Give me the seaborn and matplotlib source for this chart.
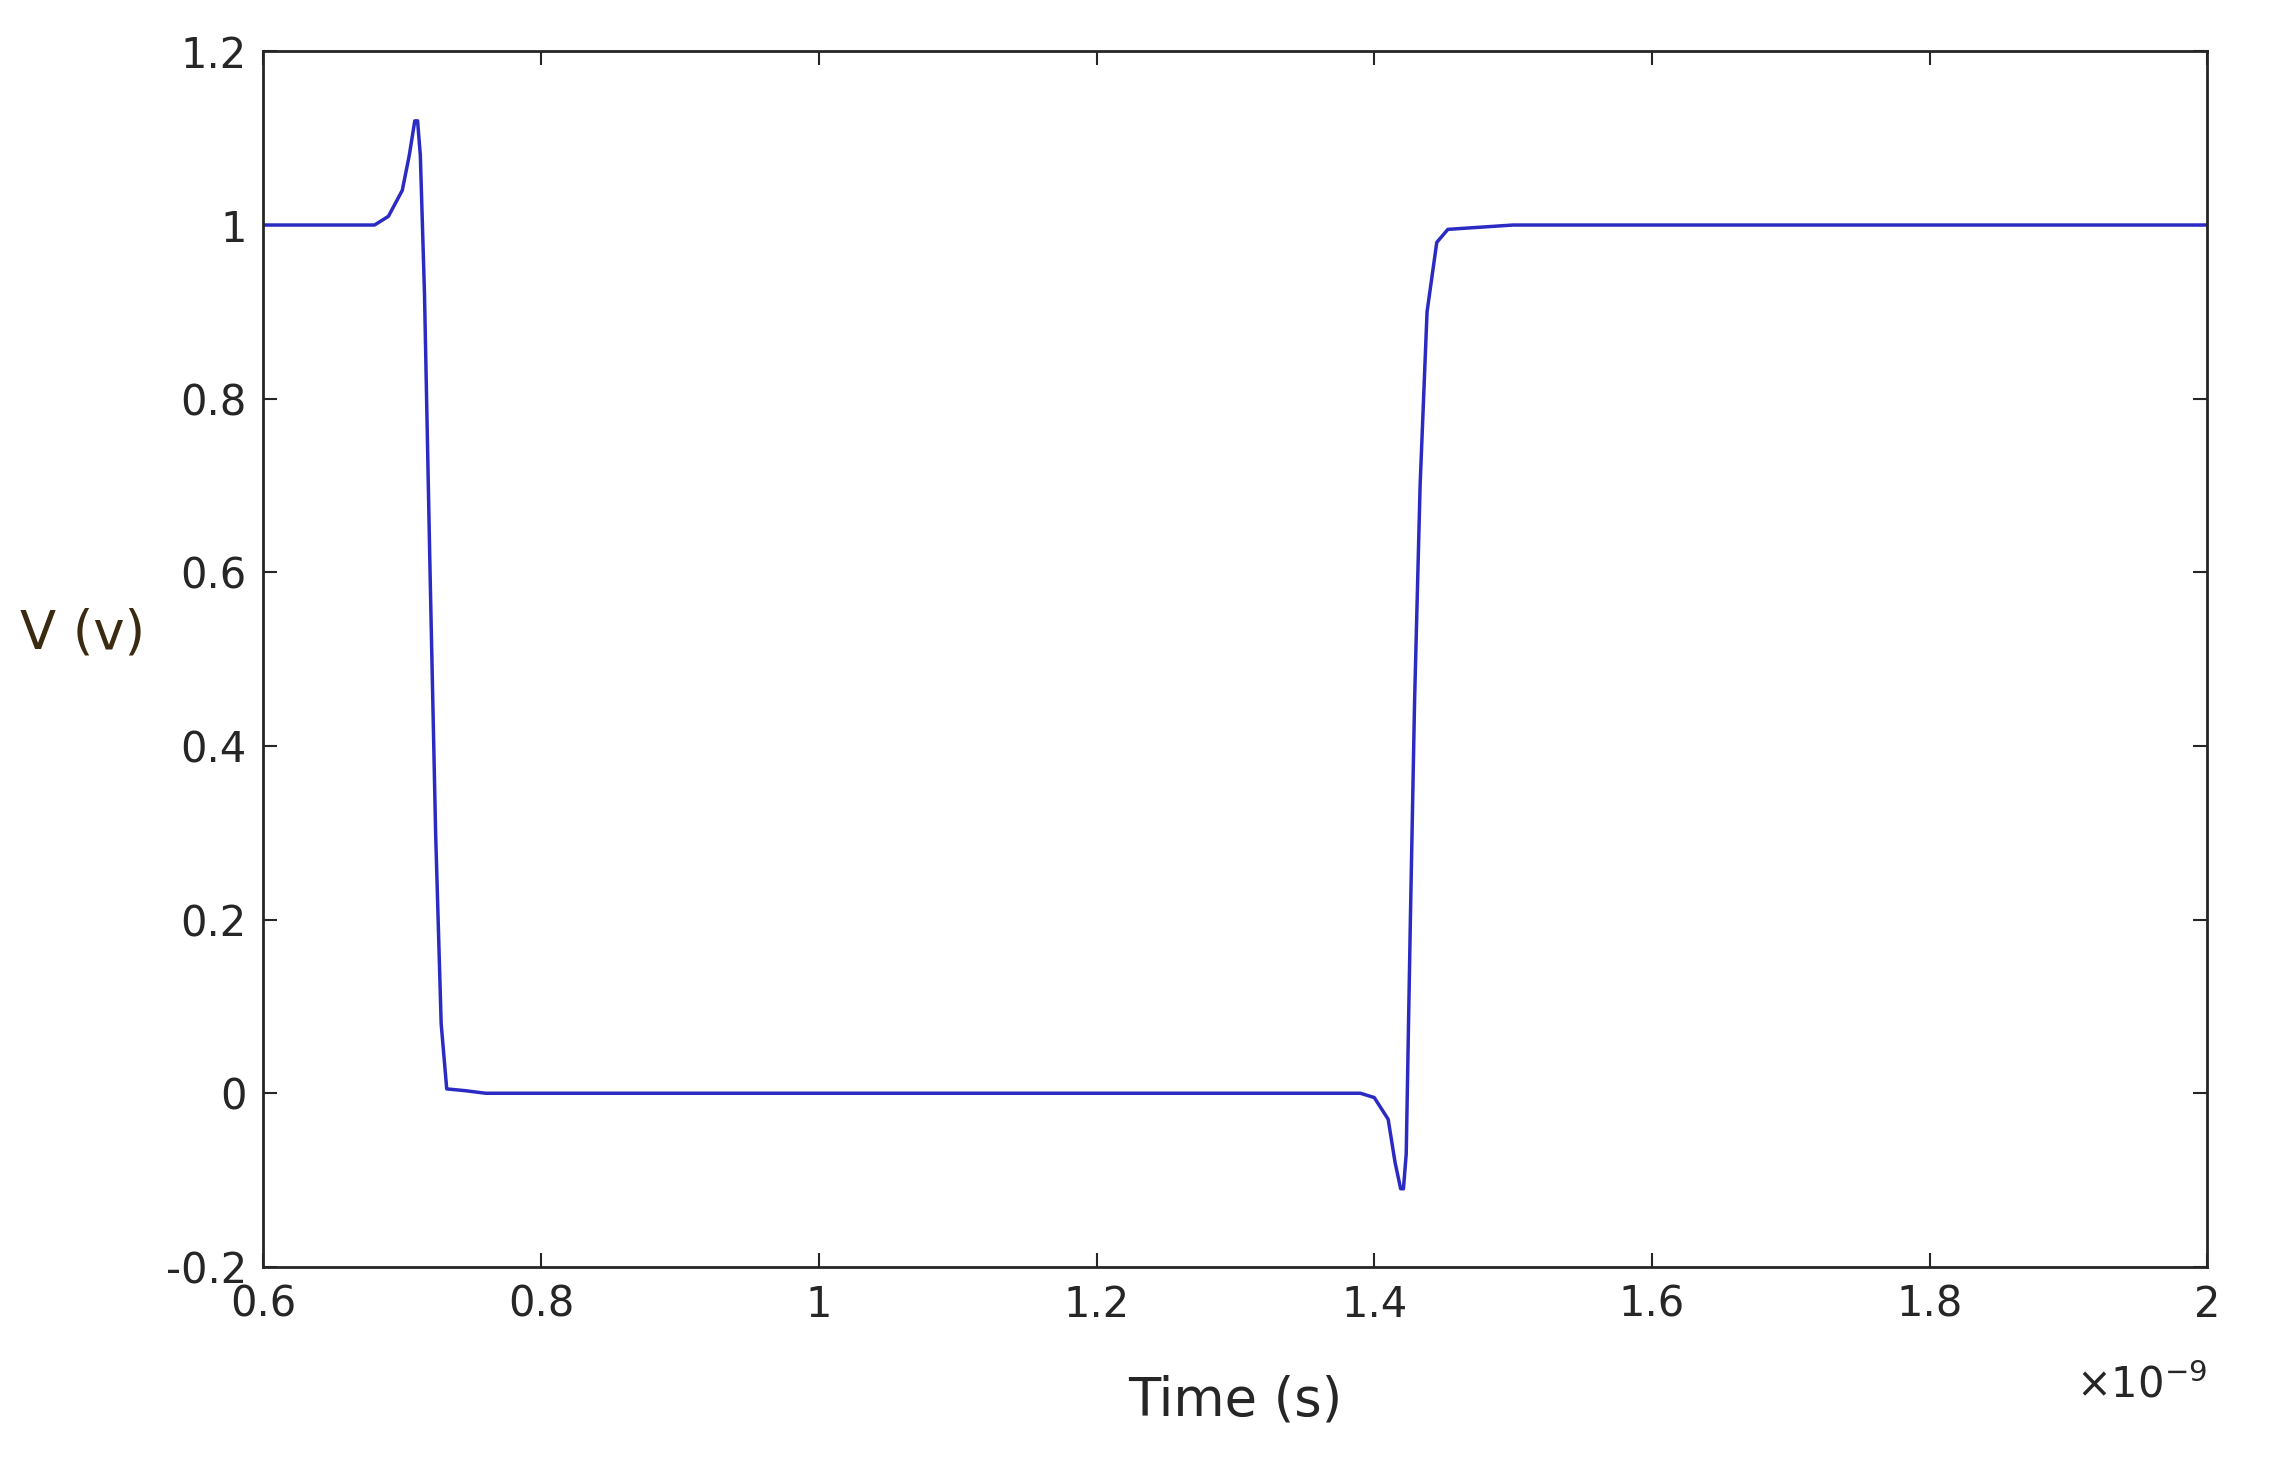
import matplotlib
matplotlib.use("Agg")
import matplotlib.pyplot as plt
import seaborn as sns
import pandas as pd

time_ns = [0.6, 0.68, 0.69, 0.70, 0.705, 0.709, 0.711, 0.713, 0.716, 0.72, 0.724, 0.728, 0.732,
           0.745, 0.76, 1.39, 1.40, 1.41, 1.415, 1.419, 1.421, 1.423, 1.426, 1.429, 1.433,
           1.438, 1.445, 1.453, 1.50, 2.0]
voltage = [1.0, 1.0, 1.01, 1.04, 1.08, 1.12, 1.12, 1.08, 0.92, 0.6, 0.3, 0.08, 0.005,
           0.003, 0.0, 0.0, -0.005, -0.03, -0.08, -0.11, -0.11, -0.07, 0.2, 0.45, 0.7,
           0.9, 0.98, 0.995, 1.0, 1.0]
xticks = [0.6, 0.8, 1.0, 1.2, 1.4, 1.6, 1.8, 2.0]
xticklabels = ["0.6", "0.8", "1", "1.2", "1.4", "1.6", "1.8", "2"]
yticks = [-0.2, 0, 0.2, 0.4, 0.6, 0.8, 1.0, 1.2]
yticklabels = ["-0.2", "0", "0.2", "0.4", "0.6", "0.8", "1", "1.2"]

sns.set_style("ticks")
df = pd.DataFrame({"t": time_ns, "v": voltage})
fig = plt.figure(figsize=(22.71, 14.68), dpi=100)
ax = fig.add_axes([0.116, 0.137, 0.868 - 0.012, 0.828])
sns.lineplot(data=df, x="t", y="v", ax=ax, color="#2b2bc4", linewidth=2.5, estimator=None, sort=False)
ax.set_xlim(0.6, 2.0)
ax.set_ylim(-0.2, 1.2)
ax.set_xticks(xticks)
ax.set_xticklabels(xticklabels)
ax.set_yticks(yticks)
ax.set_yticklabels(yticklabels)
ax.tick_params(direction="in", length=10, width=1.5, labelsize=30, top=True, right=True, pad=12)
for s in ax.spines.values():
    s.set_linewidth(2)
    s.set_visible(True)
ax.set_xlabel("Time (s)", fontsize=38, labelpad=35)
ax.set_ylabel("V (v)", fontsize=38, rotation=0, labelpad=60, color="#3a2a10")
ax.text(1.0, -0.08, r"$\times10^{-9}$", transform=ax.transAxes, fontsize=30, ha="right", va="top")
fig.savefig("out.png", dpi=100)
